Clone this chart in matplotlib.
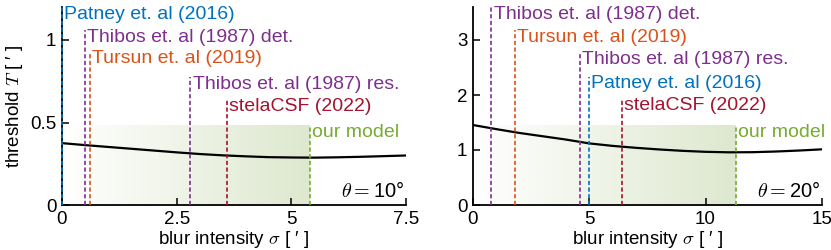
import numpy as np
import matplotlib
matplotlib.use("Agg")
import matplotlib.pyplot as plt

plt.rcParams['font.family'] = ['Liberation Sans', 'DejaVu Sans']
plt.rcParams['mathtext.fontset'] = 'cm'

# ---- dados ----
names = ["Patney et. al (2016)", "Thibos et. al (1987) det.", "Tursun et. al (2019)",
         "Thibos et. al (1987) res.", "stelaCSF (2022)", "our model"]
colors = ["#0072BD", "#7E2F8E", "#D95319", "#7E2F8E", "#A2142F", "#77AC30"]

# painel theta = 10
x10_lines = [0.0, 0.5, 0.6, 2.8, 3.6, 5.4]
top10_lines = [1.2, 1.06, 0.93, 0.776, 0.64, 0.48]
curve10_x = [0, 0.5, 1, 1.5, 2, 2.5, 3, 3.5, 4, 4.5, 5, 5.5, 6, 6.5, 7, 7.5]
curve10_y = [0.375, 0.363, 0.352, 0.341, 0.330, 0.319, 0.309, 0.301, 0.295, 0.290,
             0.288, 0.287, 0.289, 0.292, 0.296, 0.300]

# painel theta = 20
x20_lines = [5.0, 0.8, 1.8, 4.6, 6.4, 11.3]
top20_lines = [2.33, 3.6, 3.18, 2.77, 1.93, 1.44]
curve20_x = [0, 1, 2, 3, 4, 5, 6, 7, 8, 9, 10, 11, 12, 13, 14, 15]
curve20_y = [1.455, 1.38, 1.31, 1.25, 1.19, 1.12, 1.075, 1.04, 1.01, 0.985, 0.967,
             0.958, 0.96, 0.972, 0.99, 1.012]

panels = [
    dict(xs=x10_lines, tops=top10_lines, cx=curve10_x, cy=curve10_y, xlim=(0, 7.5),
         ylim=(0, 1.2), xticks=[0, 2.5, 5, 7.5], xtl=["0", "2.5", "5", "7.5"],
         yticks=[0, 0.5, 1], ytl=["0", "0.5", "1"], theta="10",
         pos=[0.0746, 0.18, 0.414, 0.792]),
    dict(xs=x20_lines, tops=top20_lines, cx=curve20_x, cy=curve20_y, xlim=(0, 15),
         ylim=(0, 3.6), xticks=[0, 5, 10, 15], xtl=["0", "5", "10", "15"],
         yticks=[0, 1, 2, 3], ytl=["0", "1", "2", "3"], theta="20",
         pos=[0.569, 0.18, 0.42, 0.792]),
]

fig = plt.figure(figsize=(8.31, 2.5), dpi=100)
fs = 13.5
fs_ann = 14

for i, p in enumerate(panels):
    ax = fig.add_axes(p["pos"])
    model_x = p["xs"][-1]
    model_top = p["tops"][-1]

    # regiao com gradiente verde
    grad = np.linspace(0, 1, 256)
    c0 = np.array([1.0, 1.0, 1.0])
    c1 = np.array([0.87, 0.91, 0.81])
    img = c0[None, :] * (1 - grad[:, None]) + c1[None, :] * grad[:, None]
    ax.imshow(img[None, :, :], extent=[0, model_x, 0, model_top], aspect='auto',
              zorder=0, interpolation='bilinear')

    ax.plot(p["cx"], p["cy"], color='black', lw=1.6, zorder=3)

    for x, t, n, c in zip(p["xs"], p["tops"], names, colors):
        ax.plot([x, x], [0, t], color=c, lw=1.2, ls=(0, (2.5, 1.5)), zorder=4,
                clip_on=False)
        ax.annotate(n, xy=(x, t), xytext=(1.5, 1), textcoords='offset points',
                    ha='left', va='top', color=c, fontsize=fs_ann, zorder=5)

    ax.text(0.995, 0.02, r"$\theta=$10°".replace("10", p["theta"]),
            transform=ax.transAxes, ha='right', va='bottom', fontsize=fs + 1)

    ax.set_xlim(p["xlim"])
    ax.set_ylim(p["ylim"])
    ax.set_xticks(p["xticks"])
    ax.set_xticklabels(p["xtl"])
    ax.set_yticks(p["yticks"])
    ax.set_yticklabels(p["ytl"])
    ax.spines['top'].set_visible(False)
    ax.spines['right'].set_visible(False)
    ax.spines['left'].set_linewidth(1.3)
    ax.spines['bottom'].set_linewidth(1.3)
    ax.tick_params(direction='in', length=5, width=1.1, labelsize=fs, pad=4)
    ax.set_xlabel(r"blur intensity $\sigma$ [ ′ ]", fontsize=fs, labelpad=1)
    if i == 0:
        ax.set_ylabel(r"threshold $T$ [ ′ ]", fontsize=fs, labelpad=4)

fig.savefig("out.png", dpi=100)
